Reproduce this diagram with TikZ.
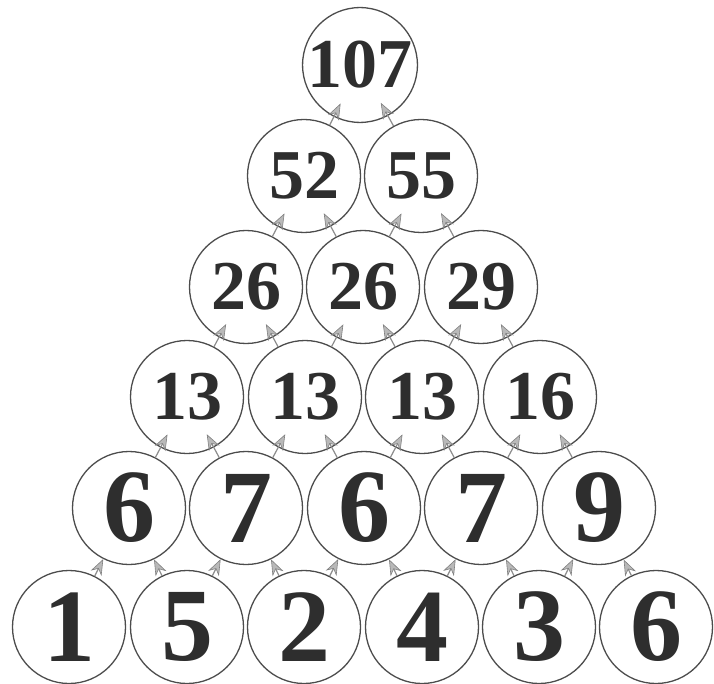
\documentclass[tikz,border=0pt]{standalone}
\usepackage{fontspec}
\setmainfont{Liberation Serif}
\usetikzlibrary{arrows.meta}
\begin{document}
\begin{tikzpicture}[x=1pt,y=-1pt,
  numcircle/.style={circle, draw=black!70, line width=1.3pt, minimum size=113pt, inner sep=0pt, text=black!82},
  bigdigit/.style={font=\fontsize{104}{104}\selectfont\bfseries},
  smalldigit/.style={font=\fontsize{70}{70}\selectfont\bfseries},
  sumarrow/.style={draw=gray!90, line width=1.2pt, -{Stealth[length=16pt,width=12pt,color=black!50,fill=gray!55,line width=0.6pt]}},
  deeparrow/.style={sumarrow, shorten >=-15pt}]
\useasboundingbox (0,0) rectangle (714,684);
% row 1
\node[numcircle,smalldigit] (r1c1) at (360,65) {107};
% row 2
\node[numcircle,smalldigit] (r2c1) at (304,176) {52};
\node[numcircle,smalldigit] (r2c2) at (421,176) {55};
% row 3
\node[numcircle,smalldigit] (r3c1) at (246,287) {26};
\node[numcircle,smalldigit] (r3c2) at (363,287) {26};
\node[numcircle,smalldigit] (r3c3) at (481,287) {29};
% row 4
\node[numcircle,smalldigit] (r4c1) at (187,397) {13};
\node[numcircle,smalldigit] (r4c2) at (305,397) {13};
\node[numcircle,smalldigit] (r4c3) at (422,397) {13};
\node[numcircle,smalldigit] (r4c4) at (540,397) {16};
% row 5
\node[numcircle,bigdigit] (r5c1) at (129,508) {6};
\node[numcircle,bigdigit] (r5c2) at (246,508) {7};
\node[numcircle,bigdigit] (r5c3) at (364,508) {6};
\node[numcircle,bigdigit] (r5c4) at (481,508) {7};
\node[numcircle,bigdigit] (r5c5) at (599,508) {9};
% row 6
\node[numcircle,bigdigit] (r6c1) at (69,627) {1};
\node[numcircle,bigdigit] (r6c2) at (187,627) {5};
\node[numcircle,bigdigit] (r6c3) at (304,627) {2};
\node[numcircle,bigdigit] (r6c4) at (422,627) {4};
\node[numcircle,bigdigit] (r6c5) at (539,627) {3};
\node[numcircle,bigdigit] (r6c6) at (656,627) {6};
% arrows from row 6 to row 5 (tips on the border)
\foreach \j in {1,...,5}{
  \pgfmathtruncatemacro{\k}{\j+1}
  \draw[sumarrow] (r6c\j) -- (r5c\j);
  \draw[sumarrow] (r6c\k) -- (r5c\j);
}
% arrows between upper rows (tips inside the circle)
\foreach \r in {2,...,5}{
  \pgfmathtruncatemacro{\up}{\r-1}
  \foreach \j in {1,...,\up}{
    \pgfmathtruncatemacro{\k}{\j+1}
    \draw[deeparrow] (r\r c\j) -- (r\up c\j);
    \draw[deeparrow] (r\r c\k) -- (r\up c\j);
  }
}
\end{tikzpicture}
\end{document}
